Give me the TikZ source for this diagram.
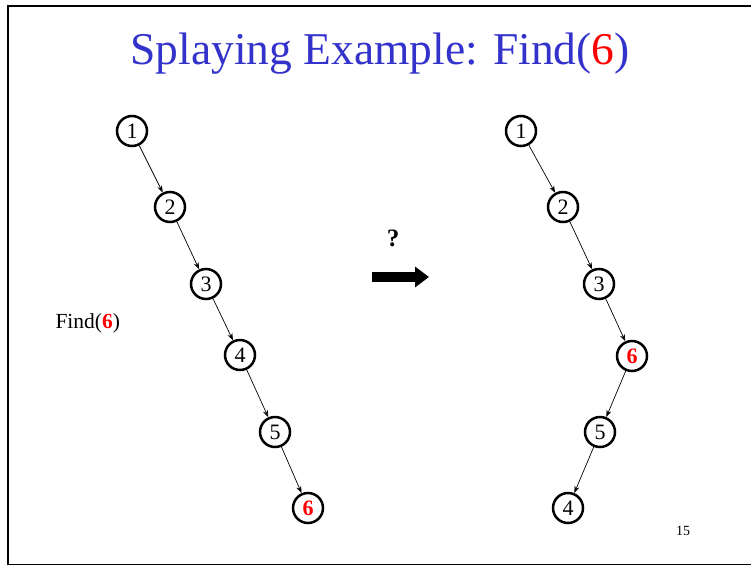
\documentclass[tikz,border=0pt]{standalone}
\usepackage{fontspec}
\setmainfont{Liberation Serif}
\usetikzlibrary{arrows.meta}
\definecolor{titleblue}{RGB}{51,51,204}
\definecolor{hired}{RGB}{255,0,0}
\tikzset{
  tnode/.style={circle, draw=black, line width=2.5pt, minimum size=30pt, inner sep=0pt, font=\fontsize{22}{22}\selectfont},
  tedge/.style={-{Stealth[length=7pt,width=5pt]}, line width=0.7pt},
  hl/.style={text=hired, font=\fontsize{22}{22}\selectfont\bfseries}
}
\begin{document}
\begin{tikzpicture}[x=1pt,y=-1pt]
\useasboundingbox (0,0) rectangle (751,565);
\fill[white] (0,0) rectangle (751,565);
% frame
\draw[line width=2.2pt] (8,565) -- (8,6) -- (751,6);
\draw[line width=1pt] (8,564) -- (751,564);
% title
\node[text=titleblue, font=\fontsize{45.5}{45.5}\selectfont] (title) at (380,54) {Splaying Example: Find(\textcolor{hired}{6})};
% left tree
\node[tnode] (l1) at (132,131) {1};
\node[tnode] (l2) at (170,207) {2};
\node[tnode] (l3) at (206,284) {3};
\node[tnode] (l4) at (240,355) {4};
\node[tnode] (l5) at (275,432) {5};
\node[tnode, hl] (l6) at (308,508) {6};
\draw[tedge] (l1) -- (l2);
\draw[tedge] (l2) -- (l3);
\draw[tedge] (l3) -- (l4);
\draw[tedge] (l4) -- (l5);
\draw[tedge] (l5) -- (l6);
% label
\node[font=\fontsize{21.5}{21.5}\selectfont, anchor=west] (find) at (52,323) {Find(\textcolor{hired}{\bfseries 6})};
% question and arrow
\node[font=\fontsize{25}{25}\selectfont\bfseries] (q) at (393,238) {?};
\coordinate (as) at (372,277);
\coordinate (ae) at (429,277);
\draw[line width=10pt, -{Triangle[length=14pt,width=20pt]}] (as) -- (ae);
% right tree
\node[tnode] (r1) at (521,131) {1};
\node[tnode] (r2) at (563,207) {2};
\node[tnode] (r3) at (599,284) {3};
\node[tnode, hl] (r6) at (632,356) {6};
\node[tnode] (r5) at (600,432) {5};
\node[tnode] (r4) at (568,508) {4};
\draw[tedge] (r1) -- (r2);
\draw[tedge] (r2) -- (r3);
\draw[tedge] (r3) -- (r6);
\draw[tedge] (r6) -- (r5);
\draw[tedge] (r5) -- (r4);
% page number
\node[font=\fontsize{14}{14}\selectfont] (pg) at (683,531) {15};
\end{tikzpicture}
\end{document}
